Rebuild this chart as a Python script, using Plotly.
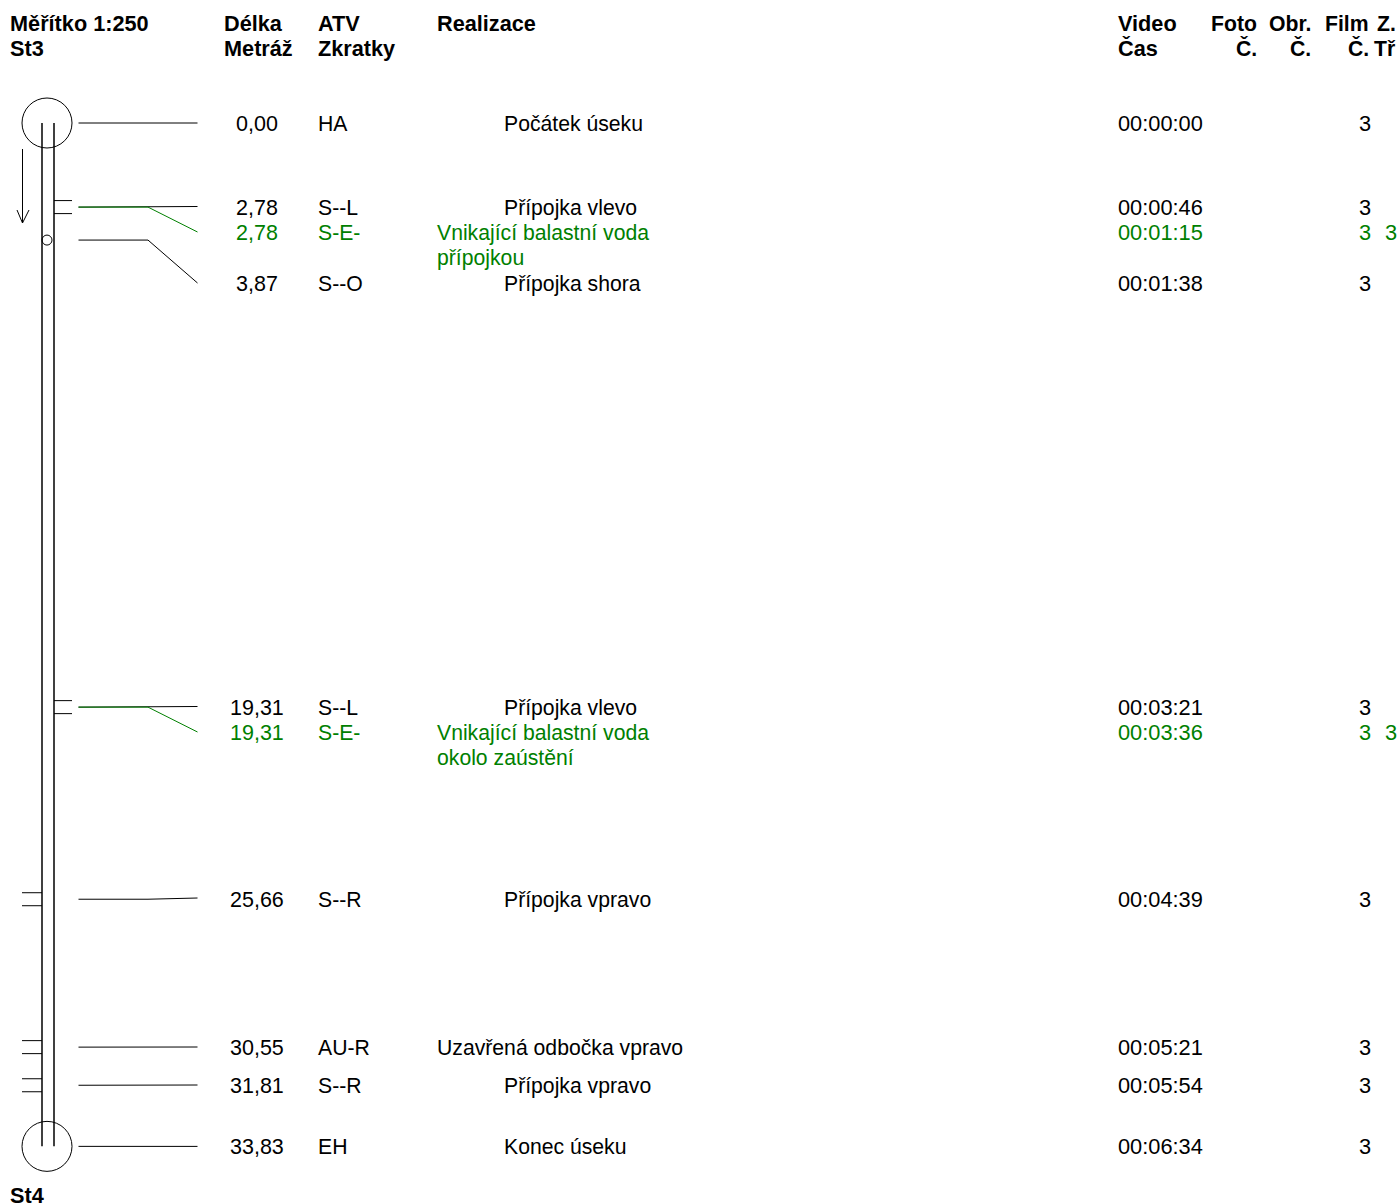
import plotly.graph_objects as go

# ---- data ----
metres = [0.00, 2.78, 2.78, 3.87, 19.31, 19.31, 25.66, 30.55, 31.81, 33.83]
metre_labels = ["0,00", "2,78", "2,78", "3,87", "19,31", "19,31", "25,66", "30,55", "31,81", "33,83"]
codes = ["HA", "S--L", "S-E-", "S--O", "S--L", "S-E-", "S--R", "AU-R", "S--R", "EH"]
remarks = ["Počátek úseku", "Přípojka vlevo", "Vnikající balastní voda", "Přípojka shora",
           "Přípojka vlevo", "Vnikající balastní voda", "Přípojka vpravo",
           "Uzavřená odbočka vpravo", "Přípojka vpravo", "Konec úseku"]
remark_second_line = [None, None, "přípojkou", None, None, "okolo zaústění", None, None, None, None]
remark_indented = [True, True, False, True, True, False, True, False, True, True]
times = ["00:00:00", "00:00:46", "00:01:15", "00:01:38", "00:03:21", "00:03:36",
         "00:04:39", "00:05:21", "00:05:54", "00:06:34"]
film = ["3"] * 10
klass = [None, None, "3", None, None, "3", None, None, None, None]
green = [False, False, True, False, False, True, False, False, False, False]
row_px = [123, 207, 232, 283, 707, 732, 899, 1047, 1085, 1146]
leader_end_px = [123, 206.5, 232, 283, 706.5, 732, 898, 1047, 1085, 1146.4]
# side of the pipe a lateral joins: L (drawn right), R (drawn left), O top, None
stub_side = [None, "L", None, "O", "L", None, "R", "R", "R", None]

header_left = [(10, "Měřítko 1:250", "St3"), (224, "Délka", "Metráž"), (317.5, "ATV", "Zkratky"),
               (437, "Realizace", ""), (1118, "Video", "Čas")]
header_right = [(1257, "Foto", "Č."), (1311, "Obr.", "Č."), (1369, "Film", "Č."), (1396, "Z.", "Tř")]
footer = "St4"

# ---- styling / layout ----
W, H = 1400, 1204
PX_PER_M = 30.25
Y0 = 123
FONT = "Liberation Sans, Arial, sans-serif"
BLACK = "#000000"
GREEN = "#008000"


def to_m(px):
    return (px - Y0) / PX_PER_M


fig = go.Figure()


def line(xs, ys, color=BLACK, width=1):
    fig.add_trace(go.Scatter(x=xs, y=ys, mode="lines", line=dict(color=color, width=width),
                             hoverinfo="skip", showlegend=False))


def text(x, px, s, color=BLACK, anchor="left", bold=False, size=21.2, dy=0):
    fig.add_annotation(x=x, y=to_m(px + dy), text=f"<b>{s}</b>" if bold else s, showarrow=False,
                       xanchor=anchor, yanchor="middle", borderpad=0, borderwidth=0,
                       font=dict(family=FONT, size=size, color=color))


# pipe walls
end = metres[-1]
line([42, 42], [0, end], width=1.5)
line([54, 54], [0, end], width=1.5)

# manholes
fig.add_trace(go.Scatter(x=[47, 47], y=[0, end], mode="markers", hoverinfo="skip", showlegend=False,
                         marker=dict(symbol="circle-open", size=50, color=BLACK, line=dict(width=1, color=BLACK))))

# flow arrow
line([22.5, 22.5], [to_m(149), to_m(223)])
line([17, 22.5, 29], [to_m(210), to_m(223), to_m(210)])

for m, side, end_px, g in zip(metres, stub_side, leader_end_px, green):
    color = GREEN if g else BLACK
    line([78.5, 148, 197.5], [m, m, to_m(end_px)], color=color)
    hw = 6.5 / PX_PER_M
    if side == "L":
        line([54, 72], [m - hw, m - hw])
        line([54, 72], [m + hw, m + hw])
    elif side == "R":
        line([22, 42], [m - hw, m - hw])
        line([22, 42], [m + hw, m + hw])
    elif side == "O":
        fig.add_trace(go.Scatter(x=[47], y=[m], mode="markers", hoverinfo="skip", showlegend=False,
                                 marker=dict(symbol="circle-open", size=10, color=BLACK,
                                             line=dict(width=1, color=BLACK))))

# rows
for i, px in enumerate(row_px):
    c = GREEN if green[i] else BLACK
    text(256.7, px, metre_labels[i], c, "center", size=21.5, dy=1)
    text(317.7, px, codes[i], c)
    text(504 if remark_indented[i] else 437, px, remarks[i], c, dy=0.6)
    if remark_second_line[i]:
        text(437, px + 25, remark_second_line[i], c, dy=0.6)
    text(1118, px, times[i], c, size=21.8)
    text(1364.5, px, film[i], c, "center", size=21.8)
    if klass[i]:
        text(1391, px, klass[i], c, "center", size=21.8)

# header
for x, a, b in header_left:
    text(x, 23, a, bold=True, size=21.7)
    if b:
        text(x, 48, b, bold=True, size=21.7)
for x, a, b in header_right:
    text(x, 23, a, anchor="right", bold=True, size=21.2)
    text(x, 48, b, anchor="right", bold=True, size=21.2)
text(10, 1195, footer, bold=True, size=21.7)

fig.update_layout(
    width=W, height=H, margin=dict(l=0, r=0, t=0, b=0),
    paper_bgcolor="white", plot_bgcolor="white", showlegend=False, hovermode=False,
    xaxis=dict(range=[0, W], visible=False, fixedrange=True),
    yaxis=dict(range=[to_m(H), to_m(0)], visible=False, fixedrange=True),
)
fig.write_html("out.html", config={"displayModeBar": False},
               post_script="document.body.style.margin='0';document.documentElement.style.overflow='hidden';")
